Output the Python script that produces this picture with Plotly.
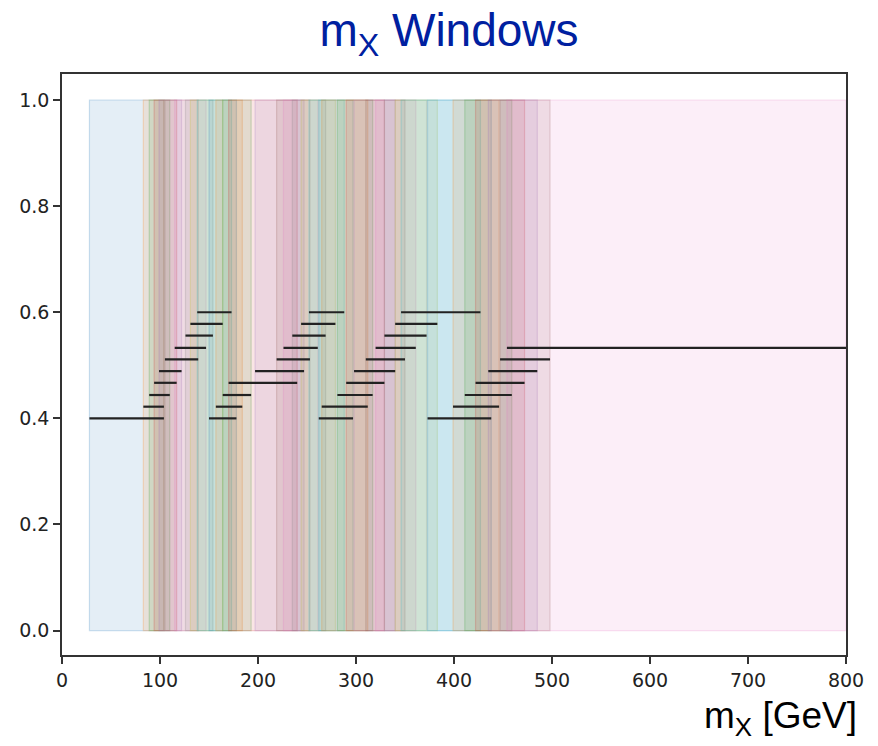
import plotly.graph_objects as go

# Mass windows (GeV) and the height at which each window is drawn
window_lo = [28, 83, 89, 94, 99, 105, 115, 126, 131, 138,
             150, 157, 164, 170, 197, 219, 226, 235, 244, 252,
             262, 265, 281, 290, 298, 310, 320, 329, 340, 346,
             373, 399, 411, 422, 435, 447, 454]
window_hi = [104, 104, 110, 117, 122, 139, 147, 154, 164, 173,
             178, 184, 193, 240, 247, 253, 261, 269, 279, 288,
             297, 312, 317, 329, 340, 350, 361, 372, 383, 427,
             438, 446, 459, 472, 485, 498, 800]
window_y = [0.400, 0.422, 0.444, 0.467, 0.489, 0.511, 0.533, 0.556, 0.578, 0.600,
            0.400, 0.422, 0.444, 0.467, 0.489, 0.511, 0.533, 0.556, 0.578, 0.600,
            0.400, 0.422, 0.444, 0.467, 0.489, 0.511, 0.533, 0.556, 0.578, 0.600,
            0.400, 0.422, 0.444, 0.467, 0.489, 0.511, 0.533]

x_ticks = [0, 100, 200, 300, 400, 500, 600, 700, 800]
y_ticks = [0.0, 0.2, 0.4, 0.6, 0.8, 1.0]

# tab10 colour cycle
palette = [(31, 119, 180), (255, 127, 14), (44, 160, 44), (214, 39, 40),
           (148, 103, 189), (140, 86, 75), (227, 119, 194), (127, 127, 127),
           (188, 189, 34), (23, 190, 207)]
band_alpha = 0.12
edge_alpha = 0.22

shapes = []
for i, (lo, hi) in enumerate(zip(window_lo, window_hi)):
    r, g, b = palette[i % len(palette)]
    shapes.append(dict(type="rect", xref="x", yref="y", x0=lo, x1=hi, y0=0, y1=1,
                       fillcolor=f"rgba({r},{g},{b},{band_alpha})",
                       line=dict(color=f"rgba({r},{g},{b},{edge_alpha})", width=1.2),
                       layer="below"))

seg_x, seg_y = [], []
for lo, hi, y in zip(window_lo, window_hi, window_y):
    seg_x += [lo, hi, None]
    seg_y += [y, y, None]

fig = go.Figure()
fig.add_trace(go.Scatter(x=seg_x, y=seg_y, mode="lines",
                         line=dict(color="#222222", width=2.2),
                         hoverinfo="skip", showlegend=False))

axis_common = dict(showline=True, mirror=True, linecolor="#333333", linewidth=1.5,
                   ticks="outside", ticklen=7, tickwidth=1.5, tickcolor="#333333",
                   showgrid=False, zeroline=False,
                   tickfont=dict(family="DejaVu Sans", size=19, color="#222222"))

fig.update_layout(
    width=878, height=746,
    margin=dict(l=62, r=32, t=74, b=91),
    paper_bgcolor="white", plot_bgcolor="white",
    shapes=shapes,
    title=dict(text="m<sub>X</sub> Windows", x=449 / 878, xanchor="center",
               xref="container", y=1 - 30 / 746, yanchor="middle", yref="container",
               font=dict(family="Liberation Sans", size=46, color="rgb(0,32,160)")),
    xaxis=dict(range=[0, 800], tickvals=x_ticks, **axis_common),
    yaxis=dict(range=[-0.046, 1.049], tickvals=y_ticks, tickformat=".1f", **axis_common),
    annotations=[dict(text="m<sub>X</sub> [GeV]", xref="paper", yref="paper",
                      x=(859 - 62) / 784, y=(655 - 718) / 581,
                      xanchor="right", yanchor="middle", showarrow=False,
                      font=dict(family="Liberation Sans", size=37, color="black"))],
)

fig.write_html("out.html")
